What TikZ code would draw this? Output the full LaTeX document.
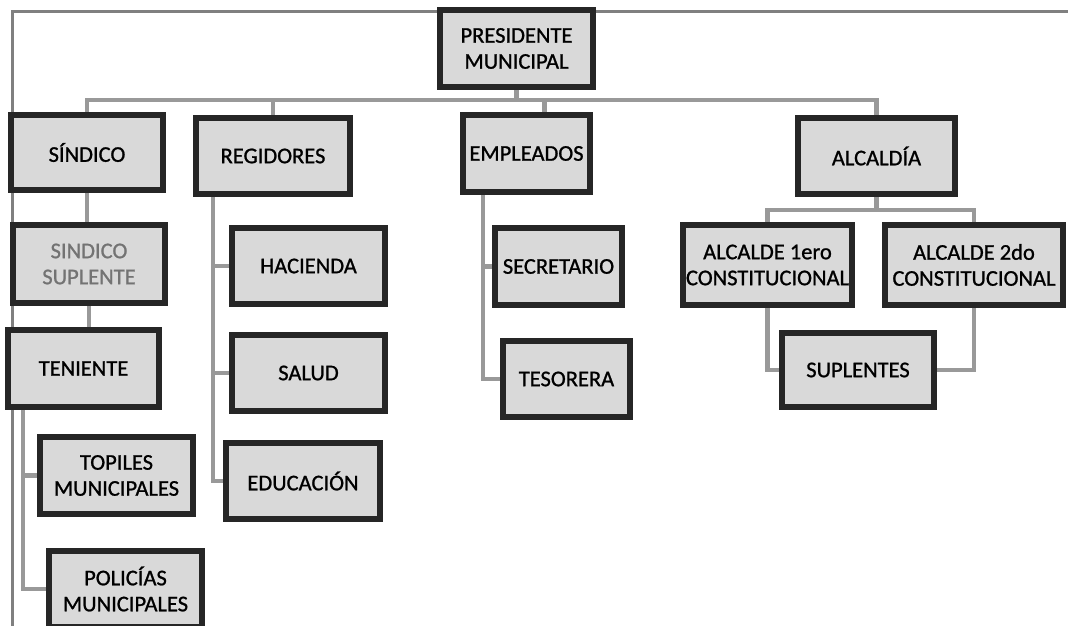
\documentclass[tikz,border=0pt]{standalone}
\usepackage{fontspec}
\setmainfont{Carlito}[FakeBold=1]
\usepackage{tikz}
\usetikzlibrary{shapes,arrows,positioning,calc}
\tikzset{
cargo/.style = {draw=black!85, fill=black!15, rectangle, line width=6pt, align=center, inner sep=0pt, font=\fontsize{22.5}{26}\selectfont},
enlace/.style = {draw=black!40, line width=4.5pt},
marco/.style = {draw=black!50, line width=3pt}
}

\begin{document}
\begin{tikzpicture}[x=1pt,y=-1pt]
   \useasboundingbox (0,0) rectangle (1068,626);
   \clip (0,0) rectangle (1068,626);
   % marco de la tabla
   \draw [marco] (12,626) -- (12,12) -- (1068,12);
   % nivel 1
   \node [cargo, minimum width=153, minimum height=77] (pres) at (516.5,48.5) {PRESIDENTE\\MUNICIPAL};
   % nivel 2
   \node [cargo, minimum width=152, minimum height=75] (sind) at (87,152.5) {SÍNDICO};
   \node [cargo, minimum width=154, minimum height=76] (regi) at (273,156) {REGIDORES};
   \node [cargo, minimum width=127, minimum height=77] (empl) at (526.5,153.5) {EMPLEADOS};
   \node [cargo, minimum width=157, minimum height=76] (alca) at (876.5,156) {ALCALDÍA};
   % sindicatura
   \node [cargo, minimum width=152, minimum height=78, text=black!55] (supl) at (89,264) {SINDICO\\SUPLENTE};
   \node [cargo, minimum width=151, minimum height=77] (teni) at (83.5,368.5) {TENIENTE};
   \node [cargo, minimum width=153, minimum height=77] (topi) at (116.5,475.5) {TOPILES\\MUNICIPALES};
   \node [cargo, minimum width=153, minimum height=76] (poli) at (125.5,589) {POLICÍAS\\MUNICIPALES};
   % regidores
   \node [cargo, minimum width=153, minimum height=76] (haci) at (308.5,266) {HACIENDA};
   \node [cargo, minimum width=153, minimum height=76] (salu) at (308.5,373) {SALUD};
   \node [cargo, minimum width=154, minimum height=76] (educ) at (303,481) {EDUCACIÓN};
   % empleados
   \node [cargo, minimum width=127, minimum height=77] (secr) at (558.5,266.5) {SECRETARIO};
   \node [cargo, minimum width=127, minimum height=76] (teso) at (566.5,379) {TESORERA};
   % alcaldia
   \node [cargo, minimum width=169, minimum height=80] (alc1) at (767.5,265) {ALCALDE 1ero\\CONSTITUCIONAL};
   \node [cargo, minimum width=178, minimum height=80] (alc2) at (974,265) {ALCALDE 2do\\CONSTITUCIONAL};
   \node [cargo, minimum width=152, minimum height=74] (sups) at (858,370) {SUPLENTES};
   % conexiones
   \coordinate (bus) at (0,100);
   \coordinate (abus) at (0,210);
   \draw [enlace] (pres.south) -- (pres.south |- bus);
   \draw [enlace] (sind.north) |- (alca.north |- bus) -- (alca.north);
   \draw [enlace] (regi.north) -- (regi.north |- bus);
   \draw [enlace] ([xshift=18]empl.north) -- ([xshift=18]empl.north |- bus);
   \draw [enlace] (sind.south) -- (sind.south |- supl.north);
   \draw [enlace] (supl.south) -- (supl.south |- teni.north);
   \draw [enlace] ([xshift=18]teni.south west) |- (topi.west);
   \draw [enlace] ([xshift=18]teni.south west) |- (poli.west);
   \draw [enlace] ([xshift=20]regi.south west) |- (haci.west);
   \draw [enlace] ([xshift=20]regi.south west) |- (salu.west);
   \draw [enlace] ([xshift=20]regi.south west) |- (educ.west);
   \draw [enlace] ([xshift=23]empl.south west) |- (secr.west);
   \draw [enlace] ([xshift=23]empl.south west) |- (teso.west);
   \draw [enlace] (alca.south) -- (alca.south |- abus);
   \draw [enlace] (alc1.north) |- (alc2.north |- abus) -- (alc2.north);
   \draw [enlace] (alc1.south) |- (sups.west);
   \draw [enlace] (alc2.south) |- (sups.east);
\end{tikzpicture}
\end{document}
